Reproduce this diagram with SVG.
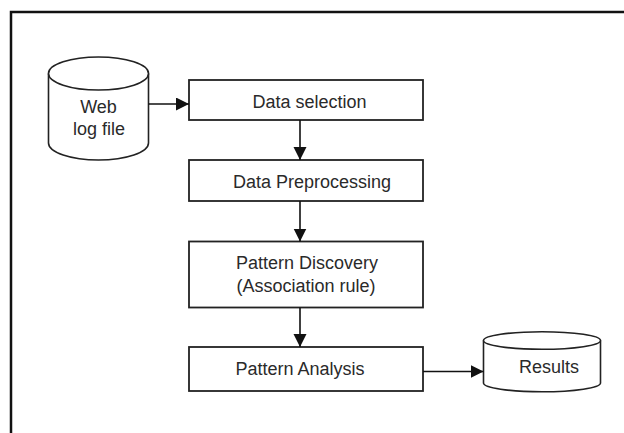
<svg xmlns="http://www.w3.org/2000/svg" width="624" height="433" viewBox="0 0 624 433">
<style>
.box{fill:#fff;stroke:#222;stroke-width:1.8}
.cyl{fill:#fff;stroke:#222;stroke-width:1.6}
.lbl{font-family:"Liberation Sans",Arial,sans-serif;font-size:18px;fill:#2a2a2a;text-anchor:middle}
.conn{stroke:#111;stroke-width:1.6;fill:none}
</style>
<defs>
<marker id="arr" markerUnits="userSpaceOnUse" markerWidth="14" markerHeight="14" refX="13" refY="6.5" orient="auto">
<path d="M0,0 L13,6.5 L0,13 Z" fill="#111"/>
</marker>
</defs>
<rect width="624" height="433" fill="#fff"/>
<path d="M11,433 V12 H624" fill="none" stroke="#111" stroke-width="2.5"/>
<g id="weblog">
<path class="cyl" d="M48.5,73.5 V143 A50,17 0 0 0 148.5,143 V73.5"/>
<ellipse class="cyl" cx="98.5" cy="73.5" rx="50" ry="16.5"/>
<text class="lbl" x="98.5" y="113">Web</text>
<text class="lbl" x="99" y="135">log file</text>
</g>
<g id="selection">
<rect class="box" x="189" y="80" width="234" height="40"/>
<text class="lbl" x="309.5" y="108">Data selection</text>
</g>
<g id="preprocessing">
<rect class="box" x="189" y="160" width="234" height="41"/>
<text class="lbl" x="312" y="187.5">Data Preprocessing</text>
</g>
<g id="discovery">
<rect class="box" x="189" y="241.5" width="234" height="66"/>
<text class="lbl" x="307" y="269">Pattern Discovery</text>
<text class="lbl" x="306" y="292">(Association rule)</text>
</g>
<g id="analysis">
<rect class="box" x="189" y="347" width="234" height="44"/>
<text class="lbl" x="300" y="375">Pattern Analysis</text>
</g>
<g id="results">
<path class="cyl" d="M483.5,340.5 V383 A58.5,8.8 0 0 0 600.5,383 V340.5"/>
<ellipse class="cyl" cx="542" cy="340.5" rx="58.5" ry="8.8"/>
<text class="lbl" x="549" y="372.5">Results</text>
</g>
<g id="connectors">
<line class="conn" x1="148.5" y1="104" x2="189" y2="104" marker-end="url(#arr)"/>
<line class="conn" x1="300" y1="120" x2="300" y2="160" marker-end="url(#arr)"/>
<line class="conn" x1="300" y1="201" x2="300" y2="241.5" marker-end="url(#arr)"/>
<line class="conn" x1="300" y1="307.5" x2="300" y2="347" marker-end="url(#arr)"/>
<line class="conn" x1="423" y1="371.5" x2="483.5" y2="371.5" marker-end="url(#arr)"/>
</g>
</svg>
